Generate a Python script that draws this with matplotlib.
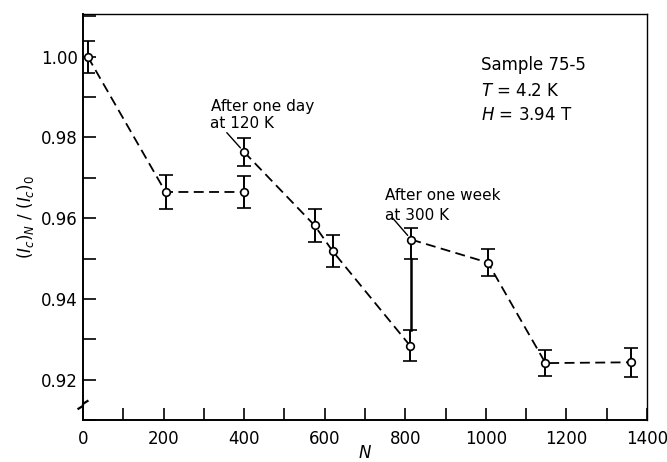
import matplotlib.pyplot as plt
from matplotlib.ticker import MultipleLocator
import matplotlib.transforms as mtransforms

# cycles N, normalised critical current and error bars
n_a = [12, 205, 400]
v_a = [1.000, 0.9665, 0.9665]
e_a = [0.0040, 0.0041, 0.0040]

n_b = [400, 575, 620, 812]
v_b = [0.9764, 0.9582, 0.9518, 0.9284]
e_b = [0.0034, 0.0040, 0.0040, 0.0038]

n_c = [815, 1005, 1148, 1360]
v_c = [0.9547, 0.9490, 0.9241, 0.9243]
e_c_lo = [0.0048, 0.0034, 0.0032, 0.0036]
e_c_hi = [0.0028, 0.0034, 0.0032, 0.0036]

# solid link between the two points near N=800
link_n = [814, 814]
link_v = [0.9322, 0.9499]

fig = plt.figure(figsize=(6.67, 4.62), dpi=100)
ax = fig.add_axes([0.1244, 0.0909, 0.8456, 0.8788])

line_kw = dict(color='black', lw=1.3, linestyle=(0, (5.5, 3)), zorder=2)
err_kw = dict(fmt='o', ms=5.5, mfc='white', mec='black', mew=1.2,
              ecolor='black', elinewidth=1.4, capsize=5, capthick=1.4, zorder=3)

for n, v in [(n_a, v_a), (n_b, v_b), (n_c, v_c)]:
    ax.plot(n, v, **line_kw)

ax.errorbar(n_a, v_a, yerr=e_a, **err_kw)
ax.errorbar(n_b, v_b, yerr=e_b, **err_kw)
ax.errorbar(n_c, v_c, yerr=[e_c_lo, e_c_hi], **err_kw)
ax.plot(link_n, link_v, color='black', lw=1.8, zorder=2)

ax.set_xlim(0, 1400)
ax.set_ylim(0.9100, 1.0106)
ax.xaxis.set_minor_locator(MultipleLocator(100))
ax.yaxis.set_minor_locator(MultipleLocator(0.01))
ax.set_xticks([0, 200, 400, 600, 800, 1000, 1200, 1400])
ax.set_xticklabels(['0', '200', '400', '600', '800', '1000', '1200', '1400'])
ax.set_yticks([0.92, 0.94, 0.96, 0.98, 1.00])
ax.set_yticklabels(['0.92', '0.94', '0.96', '0.98', '1.00'])

ax.tick_params(which='both', direction='in', length=9, width=1.2,
               top=False, right=False, labelsize=12)
ax.tick_params(axis='x', pad=7)
ax.tick_params(axis='y', pad=3.5)
for s in ['left', 'bottom']:
    ax.spines[s].set_linewidth(1.4)
for s in ['top', 'right']:
    ax.spines[s].set_linewidth(1.0)

ax.set_xlabel('$N$', fontsize=12, labelpad=-3)
ax.set_ylabel(r'$(I_c)_N\ /\ (I_c)_0$', fontsize=12, labelpad=4)

# axis break mark on the y axis
tr = mtransforms.blended_transform_factory(ax.transAxes, ax.transData)
ax.plot([-0.008, 0.0, 0.0, 0.008], [0.9128, 0.9135, 0.9140, 0.9147],
        transform=tr, color='black', lw=1.6, clip_on=False)

ax.text(0.705, 0.862, 'Sample 75-5', transform=ax.transAxes, fontsize=12)
ax.text(0.705, 0.798, '$T$ = 4.2 K', transform=ax.transAxes, fontsize=12)
ax.text(0.705, 0.739, '$H$ = 3.94 T', transform=ax.transAxes, fontsize=12)

ax.text(318, 0.98667, 'After one day', fontsize=11)
ax.text(315, 0.98247, 'at 120 K', fontsize=11)
ax.annotate('', xy=(400, 0.9764), xytext=(357, 0.9812),
            arrowprops=dict(arrowstyle='-', color='black', lw=1.0,
                            shrinkA=0, shrinkB=4))

ax.text(749, 0.96444, 'After one week', fontsize=11)
ax.text(749, 0.95951, 'at 300 K', fontsize=11)
ax.annotate('', xy=(815, 0.9547), xytext=(769, 0.9600),
            arrowprops=dict(arrowstyle='-', color='black', lw=1.0,
                            shrinkA=0, shrinkB=4))

fig.savefig('out.png', dpi=100)
